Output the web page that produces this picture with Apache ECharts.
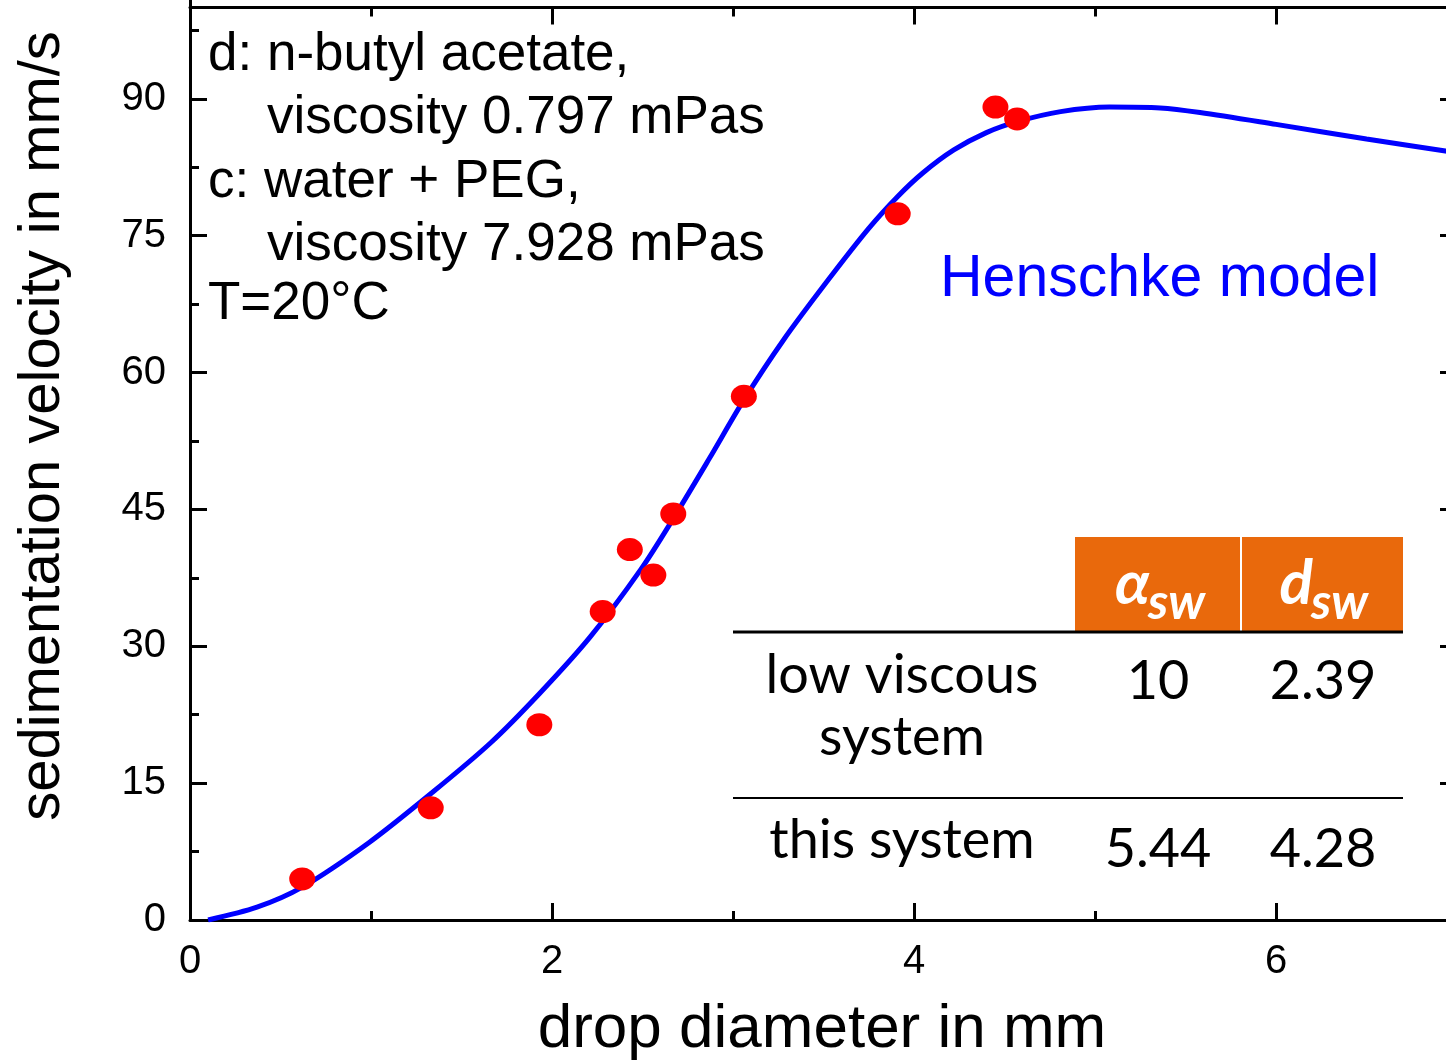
<!DOCTYPE html>
<html>
<head>
<meta charset="utf-8">
<title>sedimentation velocity</title>
<script src="https://cdn.jsdelivr.net/npm/echarts@6/dist/echarts.min.js"></script>
<style>
  html, body { margin: 0; padding: 0; background: #fff; overflow: hidden; width: 1446px; height: 1061px; }
  /* chart is bigger than the window: the right and top frame sit at x=7 / y=100, the rest is cut off */
  #chart { position: absolute; left: 0; top: -38px; width: 1638px; height: 1099px; }
</style>
</head>
<body>
<div id="chart"></div>
<script>
// Henschke model curve (drop diameter mm / velocity mm/s)
const curveX = [0.10, 0.37, 0.62, 0.99, 1.34, 1.66, 1.93, 2.21, 2.49, 2.67, 2.87, 3.06, 3.28, 3.52, 3.75, 3.91, 4.05, 4.22, 4.40, 4.57, 4.81, 5.08, 5.36, 5.58, 6.00, 6.50, 7.00];
const curveY = [0.0, 1.4, 3.6, 8.5, 14.0, 19.4, 24.8, 31.0, 38.4, 44.0, 50.6, 57.0, 63.6, 70.0, 75.8, 79.3, 81.9, 84.4, 86.3, 87.5, 88.6, 89.1, 89.0, 88.5, 87.2, 85.6, 84.1];

// measured drops
const dropX = [0.62, 1.33, 1.93, 2.28, 2.43, 2.56, 2.67, 3.06, 3.91, 4.45, 4.57];
const dropY = [4.5, 12.3, 21.4, 33.8, 40.6, 37.8, 44.5, 57.4, 77.4, 89.1, 87.8];

// text block, top left
const noteLines = ['d: n-butyl acetate,', 'viscosity 0.797 mPas', 'c: water + PEG,', 'viscosity 7.928 mPas', 'T=20°C'];
const noteIndent = [false, true, false, true, false];

// table
const tableHead = ['α', 'd'];
const rowLabels = [['low viscous', 'system'], ['this system']];
const alphaSw = ['10', '5.44'];
const dSw = ['2.39', '4.28'];

const FONT = '"Liberation Sans", Arial, sans-serif';
const TFONT = 'Lato, "Noto Sans", sans-serif';

const OFF = 38;      // chart div sits 38px above the window
const pxX = 181;     // px per mm

function frameAxis(extra) {
    return Object.assign({
        type: 'value',
        splitLine: { show: false },
        axisLine: { show: true, onZero: false, lineStyle: { color: '#000', width: 3 } },
        axisTick: { show: true, inside: true, length: 17, lineStyle: { color: '#000', width: 3 } },
        minorTick: { show: true, splitNumber: 2, length: 9, lineStyle: { color: '#000', width: 3 } },
        minorSplitLine: { show: false }
    }, extra);
}

const chart = echarts.init(document.getElementById('chart'));

// everything below is in window pixels, the group moves it into the div
const items = [];
noteLines.forEach((t, i) => {
    items.push({
        type: 'text', x: noteIndent[i] ? 267 : 208, y: [55, 118, 182, 245, 304][i],
        style: { text: t, fontSize: 53, fontFamily: FONT, fill: '#000', align: 'left', verticalAlign: 'middle' }
    });
});
items.push({
    type: 'text', x: 940, y: 280,
    style: { text: 'Henschke model', fontSize: 59, fontFamily: FONT, fill: '#0000ff', align: 'left', verticalAlign: 'middle' }
});
// axis titles
items.push({
    type: 'text', x: 822, y: 1030,
    style: { text: 'drop diameter in mm', fontSize: 62, fontFamily: FONT, fill: '#000', align: 'center', verticalAlign: 'middle' }
});
items.push({
    type: 'text', x: 43, y: 426, rotation: Math.PI / 2,
    style: { text: 'sedimentation velocity in mm/s', fontSize: 58, fontFamily: FONT, fill: '#000', align: 'center', verticalAlign: 'middle' }
});
// table header
[[1075, 165, 1150], [1242, 161, 1313]].forEach((c, i) => {
    items.push({ type: 'rect', shape: { x: c[0], y: 537, width: c[1], height: 94 }, style: { fill: '#e9690c' } });
    items.push({
        type: 'text', x: c[2], y: 584,
        style: { text: tableHead[i], fontSize: 62, fontWeight: 'bold', fontStyle: 'italic', fontFamily: TFONT, fill: '#fff', align: 'right', verticalAlign: 'middle' }
    });
    items.push({
        type: 'text', x: c[2] - 2, y: 603,
        style: { text: 'sw', fontSize: 50, fontWeight: 'bold', fontStyle: 'italic', fontFamily: TFONT, fill: '#fff', align: 'left', verticalAlign: 'middle' }
    });
});
items.push({ type: 'line', shape: { x1: 733, y1: 632, x2: 1403, y2: 632 }, style: { stroke: '#000', lineWidth: 3 } });
items.push({ type: 'line', shape: { x1: 733, y1: 798, x2: 1403, y2: 798 }, style: { stroke: '#000', lineWidth: 2 } });
const rowY = [[676, 738], [841]];
const valY = [682, 850];
rowLabels.forEach((lines, r) => {
    lines.forEach((t, k) => {
        items.push({
            type: 'text', x: 902, y: rowY[r][k],
            style: { text: t, fontSize: 54, fontFamily: TFONT, fill: '#000', align: 'center', verticalAlign: 'middle' }
        });
    });
    items.push({
        type: 'text', x: 1158, y: valY[r],
        style: { text: alphaSw[r], fontSize: 54, fontFamily: TFONT, fill: '#000', align: 'center', verticalAlign: 'middle' }
    });
    items.push({
        type: 'text', x: 1323, y: valY[r],
        style: { text: dSw[r], fontSize: 54, fontFamily: TFONT, fill: '#000', align: 'center', verticalAlign: 'middle' }
    });
});

chart.setOption({
    animation: false,
    backgroundColor: '#fff',
    grid: { left: 190, right: 0, top: 0, bottom: 141, containLabel: false },
    xAxis: [
        frameAxis({
            min: 0, max: 8, interval: 2, position: 'bottom',
            axisLabel: { show: true, margin: 22, fontSize: 40, fontFamily: FONT, color: '#000', showMaxLabel: false }
        }),
        frameAxis({
            min: 0, max: 8, interval: 2, position: 'top', offset: -(OFF + 7.6),
            axisLabel: { show: false }
        })
    ],
    yAxis: [
        frameAxis({
            min: 0, max: 105, interval: 15, position: 'left',
            axisLabel: { show: true, margin: 24, fontSize: 40, fontFamily: FONT, color: '#000', showMaxLabel: false }
        }),
        frameAxis({
            min: 0, max: 105, interval: 15, position: 'right', offset: -pxX,
            axisLabel: { show: false }
        })
    ],
    series: [
        {
            name: 'Henschke model',
            type: 'line',
            smooth: 0.3,
            showSymbol: false,
            data: curveX.map((x, i) => [x, curveY[i]]),
            lineStyle: { color: '#0000ff', width: 5 },
            z: 2
        },
        {
            name: 'measured',
            type: 'scatter',
            symbol: 'circle',
            symbolSize: [26, 23],
            data: dropX.map((x, i) => [x, dropY[i]]),
            itemStyle: { color: '#ff0000', opacity: 1 },
            z: 3
        }
    ],
    graphic: [{ type: 'group', x: 0, y: OFF, children: items }]
});
</script>
</body>
</html>
